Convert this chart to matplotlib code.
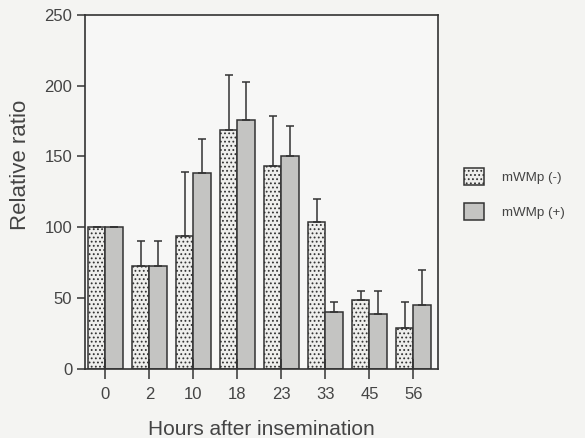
import numpy as np
import matplotlib
matplotlib.use('Agg')
import matplotlib.pyplot as plt

plt.rcParams['font.family'] = ['Liberation Sans', 'DejaVu Sans']
plt.rcParams['hatch.linewidth'] = 0.8

hours = ['0', '2', '10', '18', '23', '33', '45', '56']
minus_vals = [100, 72.5, 94, 168.5, 143.5, 103.5, 48.5, 29]
minus_err = [0, 18, 45, 39, 35, 16.5, 6.5, 18.5]
plus_vals = [100, 72.5, 138, 175.5, 150, 40, 38.5, 45]
plus_err = [0, 18, 24, 27, 21.5, 7, 16.5, 24.5]

fig = plt.figure(figsize=(5.85, 4.38), dpi=100, facecolor='#f4f4f2')
ax = fig.add_axes([0.145, 0.158, 0.603, 0.808])
ax.set_facecolor('#f7f7f6')

x = np.arange(len(hours))
w = 0.4
err_kw = dict(ecolor='#333333', elinewidth=1.1, capsize=3, capthick=1.1)

b1 = ax.bar(x - w / 2, minus_vals, w, color='#eeeeec', edgecolor='#333333',
            hatch='....', linewidth=1.1, label='mWMp (-)',
            yerr=[np.zeros(len(hours)), minus_err], error_kw=err_kw)
b2 = ax.bar(x + w / 2, plus_vals, w, color='#c4c4c2', edgecolor='#333333',
            linewidth=1.1, label='mWMp (+)',
            yerr=[np.zeros(len(hours)), plus_err], error_kw=err_kw)

ax.set_xlim(-0.47, 7.55)
ax.set_ylim(0, 250)
ax.set_xticks(x)
ax.set_xticklabels(hours)
ax.set_yticks(np.arange(0, 251, 50))
ax.tick_params(axis='both', colors='#333333', labelcolor='#444444',
               labelsize=12, width=1.1, length=6, pad=3)
ax.tick_params(axis='x', direction='inout', length=14, pad=6)
for s in ax.spines.values():
    s.set_linewidth(1.2)
    s.set_color('#333333')

ax.set_ylabel('Relative ratio', fontsize=16, color='#444444')
ax.yaxis.set_label_coords(-0.152, 0.575)
ax.set_xlabel('Hours after insemination', fontsize=15, color='#444444', labelpad=13)

fig.legend(handles=[b1, b2], loc='center left', bbox_to_anchor=(0.772, 0.557),
           frameon=False, fontsize=9.6, labelspacing=1.4, handlelength=1.5,
           handleheight=1.5, handletextpad=1.4, labelcolor='#444444')

fig.savefig('out.png', dpi=100, facecolor=fig.get_facecolor())
